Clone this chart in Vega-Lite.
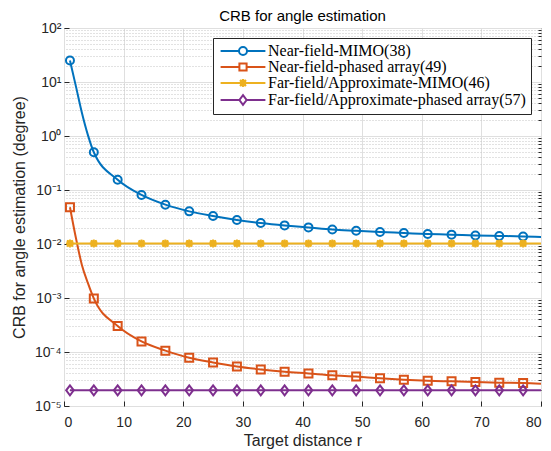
{
  "$schema": "https://vega.github.io/schema/vega-lite/v6.json",
  "autosize": {"type": "none"},
  "width": 477,
  "height": 378,
  "padding": {"left": 64, "top": 28, "right": 10, "bottom": 45},
  "background": "white",
  "title": {"text": "CRB for angle estimation", "font": "Liberation Sans", "fontSize": 15, "fontWeight": "normal", "color": "#000000", "offset": -3, "anchor": "middle"},
  "config": {
    "view": {"stroke": "#262626", "strokeWidth": 1},
    "axis": {"labelFont": "Liberation Sans", "labelFontSize": 14, "labelColor": "#262626", "titleFont": "Liberation Sans", "titleFontSize": 16, "titleFontWeight": "normal", "titleColor": "#262626", "domainColor": "#262626", "tickColor": "#262626"},
    "legend": {"labelFont": "Liberation Serif", "labelFontSize": 16, "labelColor": "#000000", "strokeColor": "#262626", "fillColor": "white", "padding": 5, "rowPadding": 0, "symbolSize": 64, "symbolStrokeWidth": 2, "symbolOffset": 17, "labelOffset": 17, "labelLimit": 400, "cornerRadius": 0}
  },
  "data": {"values": [
    {"series": "Near-field-MIMO(38)", "r": 1, "crb": 25},
    {"series": "Near-field-MIMO(38)", "r": 2, "crb": 8.3},
    {"series": "Near-field-MIMO(38)", "r": 3, "crb": 2.7},
    {"series": "Near-field-MIMO(38)", "r": 4, "crb": 1.05},
    {"series": "Near-field-MIMO(38)", "r": 5, "crb": 0.5},
    {"series": "Near-field-MIMO(38)", "r": 9, "crb": 0.155},
    {"series": "Near-field-MIMO(38)", "r": 13, "crb": 0.081},
    {"series": "Near-field-MIMO(38)", "r": 17, "crb": 0.0535},
    {"series": "Near-field-MIMO(38)", "r": 21, "crb": 0.0402},
    {"series": "Near-field-MIMO(38)", "r": 25, "crb": 0.033},
    {"series": "Near-field-MIMO(38)", "r": 29, "crb": 0.0279},
    {"series": "Near-field-MIMO(38)", "r": 33, "crb": 0.0245},
    {"series": "Near-field-MIMO(38)", "r": 37, "crb": 0.0221},
    {"series": "Near-field-MIMO(38)", "r": 41, "crb": 0.0203},
    {"series": "Near-field-MIMO(38)", "r": 45, "crb": 0.0186},
    {"series": "Near-field-MIMO(38)", "r": 49, "crb": 0.0176},
    {"series": "Near-field-MIMO(38)", "r": 53, "crb": 0.0167},
    {"series": "Near-field-MIMO(38)", "r": 57, "crb": 0.016},
    {"series": "Near-field-MIMO(38)", "r": 61, "crb": 0.0153},
    {"series": "Near-field-MIMO(38)", "r": 65, "crb": 0.0149},
    {"series": "Near-field-MIMO(38)", "r": 69, "crb": 0.0144},
    {"series": "Near-field-MIMO(38)", "r": 73, "crb": 0.0141},
    {"series": "Near-field-MIMO(38)", "r": 77, "crb": 0.0138},
    {"series": "Near-field-MIMO(38)", "r": 80, "crb": 0.0135},
    {"series": "Near-field-phased array(49)", "r": 1, "crb": 0.048},
    {"series": "Near-field-phased array(49)", "r": 2, "crb": 0.0129},
    {"series": "Near-field-phased array(49)", "r": 3, "crb": 0.0041},
    {"series": "Near-field-phased array(49)", "r": 4, "crb": 0.0019},
    {"series": "Near-field-phased array(49)", "r": 5, "crb": 0.00098},
    {"series": "Near-field-phased array(49)", "r": 9, "crb": 0.000303},
    {"series": "Near-field-phased array(49)", "r": 13, "crb": 0.000157},
    {"series": "Near-field-phased array(49)", "r": 17, "crb": 0.000106},
    {"series": "Near-field-phased array(49)", "r": 21, "crb": 0.000078},
    {"series": "Near-field-phased array(49)", "r": 25, "crb": 0.000064},
    {"series": "Near-field-phased array(49)", "r": 29, "crb": 0.000054},
    {"series": "Near-field-phased array(49)", "r": 33, "crb": 0.0000476},
    {"series": "Near-field-phased array(49)", "r": 37, "crb": 0.000043},
    {"series": "Near-field-phased array(49)", "r": 41, "crb": 0.00004},
    {"series": "Near-field-phased array(49)", "r": 45, "crb": 0.000037},
    {"series": "Near-field-phased array(49)", "r": 49, "crb": 0.000035},
    {"series": "Near-field-phased array(49)", "r": 53, "crb": 0.0000325},
    {"series": "Near-field-phased array(49)", "r": 57, "crb": 0.0000307},
    {"series": "Near-field-phased array(49)", "r": 61, "crb": 0.0000294},
    {"series": "Near-field-phased array(49)", "r": 65, "crb": 0.0000286},
    {"series": "Near-field-phased array(49)", "r": 69, "crb": 0.0000278},
    {"series": "Near-field-phased array(49)", "r": 73, "crb": 0.000027},
    {"series": "Near-field-phased array(49)", "r": 77, "crb": 0.0000267},
    {"series": "Near-field-phased array(49)", "r": 80, "crb": 0.0000259},
    {"series": "Far-field/Approximate-MIMO(46)", "r": 1, "crb": 0.0102},
    {"series": "Far-field/Approximate-MIMO(46)", "r": 5, "crb": 0.0102},
    {"series": "Far-field/Approximate-MIMO(46)", "r": 9, "crb": 0.0102},
    {"series": "Far-field/Approximate-MIMO(46)", "r": 13, "crb": 0.0102},
    {"series": "Far-field/Approximate-MIMO(46)", "r": 17, "crb": 0.0102},
    {"series": "Far-field/Approximate-MIMO(46)", "r": 21, "crb": 0.0102},
    {"series": "Far-field/Approximate-MIMO(46)", "r": 25, "crb": 0.0102},
    {"series": "Far-field/Approximate-MIMO(46)", "r": 29, "crb": 0.0102},
    {"series": "Far-field/Approximate-MIMO(46)", "r": 33, "crb": 0.0102},
    {"series": "Far-field/Approximate-MIMO(46)", "r": 37, "crb": 0.0102},
    {"series": "Far-field/Approximate-MIMO(46)", "r": 41, "crb": 0.0102},
    {"series": "Far-field/Approximate-MIMO(46)", "r": 45, "crb": 0.0102},
    {"series": "Far-field/Approximate-MIMO(46)", "r": 49, "crb": 0.0102},
    {"series": "Far-field/Approximate-MIMO(46)", "r": 53, "crb": 0.0102},
    {"series": "Far-field/Approximate-MIMO(46)", "r": 57, "crb": 0.0102},
    {"series": "Far-field/Approximate-MIMO(46)", "r": 61, "crb": 0.0102},
    {"series": "Far-field/Approximate-MIMO(46)", "r": 65, "crb": 0.0102},
    {"series": "Far-field/Approximate-MIMO(46)", "r": 69, "crb": 0.0102},
    {"series": "Far-field/Approximate-MIMO(46)", "r": 73, "crb": 0.0102},
    {"series": "Far-field/Approximate-MIMO(46)", "r": 77, "crb": 0.0102},
    {"series": "Far-field/Approximate-MIMO(46)", "r": 80, "crb": 0.0102},
    {"series": "Far-field/Approximate-phased array(57)", "r": 1, "crb": 0.0000195},
    {"series": "Far-field/Approximate-phased array(57)", "r": 5, "crb": 0.0000195},
    {"series": "Far-field/Approximate-phased array(57)", "r": 9, "crb": 0.0000195},
    {"series": "Far-field/Approximate-phased array(57)", "r": 13, "crb": 0.0000195},
    {"series": "Far-field/Approximate-phased array(57)", "r": 17, "crb": 0.0000195},
    {"series": "Far-field/Approximate-phased array(57)", "r": 21, "crb": 0.0000195},
    {"series": "Far-field/Approximate-phased array(57)", "r": 25, "crb": 0.0000195},
    {"series": "Far-field/Approximate-phased array(57)", "r": 29, "crb": 0.0000195},
    {"series": "Far-field/Approximate-phased array(57)", "r": 33, "crb": 0.0000195},
    {"series": "Far-field/Approximate-phased array(57)", "r": 37, "crb": 0.0000195},
    {"series": "Far-field/Approximate-phased array(57)", "r": 41, "crb": 0.0000195},
    {"series": "Far-field/Approximate-phased array(57)", "r": 45, "crb": 0.0000195},
    {"series": "Far-field/Approximate-phased array(57)", "r": 49, "crb": 0.0000195},
    {"series": "Far-field/Approximate-phased array(57)", "r": 53, "crb": 0.0000195},
    {"series": "Far-field/Approximate-phased array(57)", "r": 57, "crb": 0.0000195},
    {"series": "Far-field/Approximate-phased array(57)", "r": 61, "crb": 0.0000195},
    {"series": "Far-field/Approximate-phased array(57)", "r": 65, "crb": 0.0000195},
    {"series": "Far-field/Approximate-phased array(57)", "r": 69, "crb": 0.0000195},
    {"series": "Far-field/Approximate-phased array(57)", "r": 73, "crb": 0.0000195},
    {"series": "Far-field/Approximate-phased array(57)", "r": 77, "crb": 0.0000195},
    {"series": "Far-field/Approximate-phased array(57)", "r": 80, "crb": 0.0000195}
  ]},
  "resolve": {"axis": {"y": "independent"}},
  "layer": [
    {
      "mark": {"type": "line", "strokeWidth": 2, "interpolate": "monotone", "clip": true},
      "encoding": {
        "x": {"field": "r", "type": "quantitative", "scale": {"domain": [0, 80], "nice": false, "zero": false},
          "axis": {"title": "Target distance r", "values": [0, 10, 20, 30, 40, 50, 60, 70, 80], "grid": true, "gridColor": "#dfdfdf", "gridWidth": 1, "tickSize": -5, "labelPadding": 14, "titlePadding": 3, "domain": false}},
        "y": {"field": "crb", "type": "quantitative", "scale": {"type": "log", "domain": [0.00001, 100], "nice": false},
          "axis": {"title": "CRB for angle estimation (degree)", "orient": "left", "values": [0.00001, 0.0001, 0.001, 0.01, 0.1, 1, 10, 100], "grid": true, "gridColor": "#dfdfdf", "gridWidth": 1, "tickSize": -5, "labelPadding": 8, "titlePadding": 7, "domain": false,
            "labelExpr": "datum.value > 50 ? '10²' : datum.value > 5 ? '10¹' : datum.value > 0.5 ? '10⁰' : datum.value > 0.05 ? '10⁻¹' : datum.value > 0.005 ? '10⁻²' : datum.value > 0.0005 ? '10⁻³' : datum.value > 0.00005 ? '10⁻⁴' : '10⁻⁵'"}},
        "color": {"field": "series", "type": "nominal",
          "scale": {"domain": ["Near-field-MIMO(38)", "Near-field-phased array(49)", "Far-field/Approximate-MIMO(46)", "Far-field/Approximate-phased array(57)"], "range": ["#0072BD", "#D95319", "#EDB120", "#7E2F8E"]},
          "legend": {"title": null, "orient": "top-right", "offset": 10,
            "encode": {"symbols": {"update": {
              "shape": {"signal": "datum.value === 'Near-field-MIMO(38)' ? 'M-5.6,0H-1M1,0H5.6M-1,0A1,1 0 1,0 1,0A1,1 0 1,0 -1,0' : datum.value === 'Near-field-phased array(49)' ? 'M-5.6,0H-0.9M0.9,0H5.6M-0.9,-0.9H0.9V0.9H-0.9Z' : datum.value === 'Far-field/Approximate-MIMO(46)' ? 'M-5.6,0H5.6M0,-1V1M-0.75,-0.75L0.75,0.75M-0.75,0.75L0.75,-0.75M-0.6,0A0.6,0.6 0 1,0 0.6,0A0.6,0.6 0 1,0 -0.6,0' : 'M-5.6,0H-0.9M0.9,0H5.6M0,-1.2L0.9,0L0,1.2L-0.9,0Z'"},
              "fill": {"signal": "datum.value === 'Far-field/Approximate-MIMO(46)' ? '#EDB120' : 'transparent'"}
            }}}}}
      }
    },
    {
      "transform": [{"filter": "datum.series === 'Near-field-MIMO(38)' && (datum.r - 1) % 4 === 0 && datum.r <= 77"}],
      "mark": {"type": "point", "shape": "circle", "filled": false, "size": 64, "strokeWidth": 2, "color": "#0072BD", "opacity": 1},
      "encoding": {
        "x": {"field": "r", "type": "quantitative"},
        "y": {"field": "crb", "type": "quantitative",
          "axis": {"orient": "right", "title": null, "labels": false, "values": [0.00002,0.00003,0.00004,0.00005,0.00006,0.00007,0.00008,0.00009,0.0002,0.0003,0.0004,0.0005,0.0006,0.0007,0.0008,0.0009,0.002,0.003,0.004,0.005,0.006,0.007,0.008,0.009,0.02,0.03,0.04,0.05,0.06,0.07,0.08,0.09,0.2,0.3,0.4,0.5,0.6,0.7,0.8,0.9,2,3,4,5,6,7,8,9,20,30,40,50,60,70,80,90], "grid": true, "gridColor": "#c4c4c4", "gridDash": [1, 2], "gridWidth": 1, "tickSize": -3, "domain": false}}
      }
    },
    {
      "transform": [{"filter": "datum.series === 'Near-field-phased array(49)' && (datum.r - 1) % 4 === 0 && datum.r <= 77"}],
      "mark": {"type": "point", "shape": "square", "filled": false, "size": 64, "strokeWidth": 2, "color": "#D95319", "opacity": 1},
      "encoding": {
        "x": {"field": "r", "type": "quantitative"},
        "y": {"field": "crb", "type": "quantitative", "axis": null}
      }
    },
    {
      "transform": [{"filter": "datum.series === 'Far-field/Approximate-MIMO(46)' && (datum.r - 1) % 4 === 0 && datum.r <= 77"}],
      "mark": {"type": "point", "shape": "M-1,0H1M0,-1V1M-0.75,-0.75L0.75,0.75M-0.75,0.75L0.75,-0.75M-0.6,0A0.6,0.6 0 1,0 0.6,0A0.6,0.6 0 1,0 -0.6,0", "filled": false, "fill": "#EDB120", "fillOpacity": 1, "size": 64, "strokeWidth": 2, "stroke": "#EDB120", "opacity": 1},
      "encoding": {
        "x": {"field": "r", "type": "quantitative"},
        "y": {"field": "crb", "type": "quantitative", "axis": null}
      }
    },
    {
      "transform": [{"filter": "datum.series === 'Far-field/Approximate-phased array(57)' && (datum.r - 1) % 4 === 0 && datum.r <= 77"}],
      "mark": {"type": "point", "shape": "M0,-1.25L0.95,0L0,1.25L-0.95,0Z", "filled": false, "size": 64, "strokeWidth": 2, "color": "#7E2F8E", "opacity": 1},
      "encoding": {
        "x": {"field": "r", "type": "quantitative"},
        "y": {"field": "crb", "type": "quantitative", "axis": null}
      }
    }
  ]
}
